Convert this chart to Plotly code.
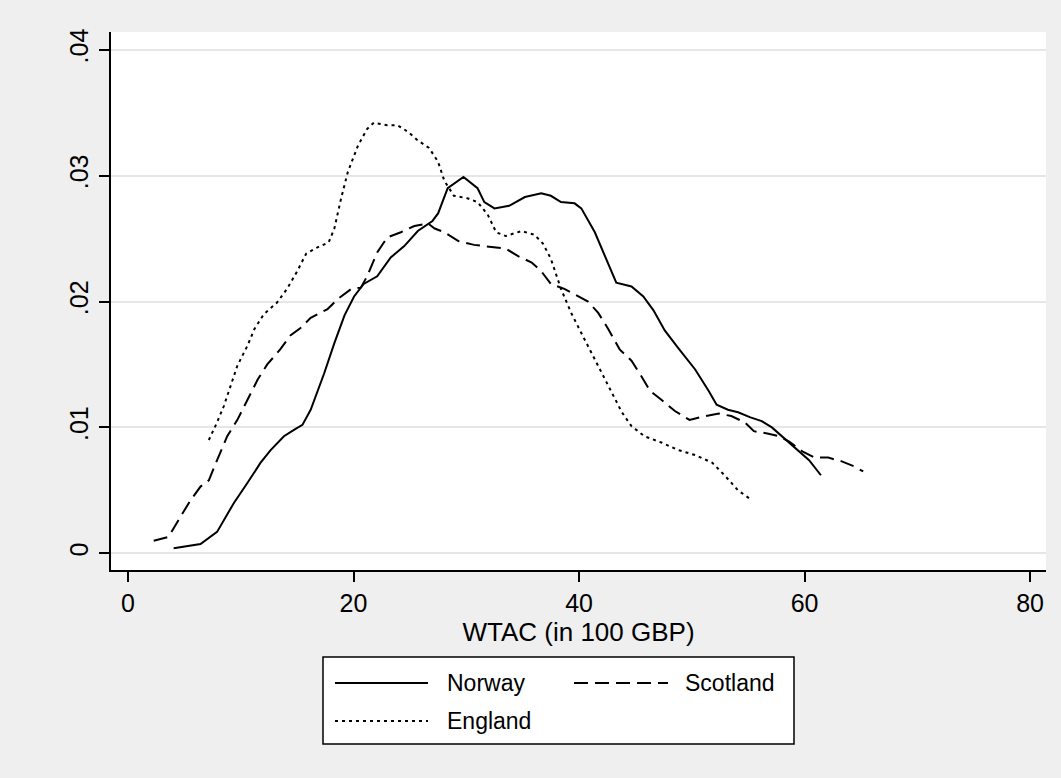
import plotly.graph_objects as go

# ---------------- data ----------------
norway_x = [4.05, 6.43, 7.9, 9.39, 10.6, 11.76, 12.65, 13.83, 14.72, 15.47, 16.2, 17.4, 18.3,
            19.2, 20.05, 20.9, 22.1, 23.3, 24.5, 25.7, 27.0, 27.5, 28.35, 29.75, 31.0, 31.6,
            32.5, 33.8, 35.2, 36.65, 37.5, 38.4, 39.6, 40.2, 41.4, 42.3, 43.3, 44.65, 45.7,
            46.6, 47.6, 48.8, 50.3, 51.5, 52.2, 53.2, 54.1, 55.2, 56.2, 57.1, 58.0, 59.2,
            60.4, 61.45]
norway_y = [0.0004, 0.00074, 0.0017, 0.0040, 0.0056, 0.0072, 0.0082, 0.0093, 0.0098, 0.0102,
            0.0114, 0.0143, 0.0167, 0.0189, 0.0204, 0.0214, 0.0220, 0.0235, 0.0244, 0.0256,
            0.0264, 0.0270, 0.0290, 0.0299, 0.0290, 0.0279, 0.0274, 0.0276, 0.0283, 0.0286,
            0.0284, 0.0279, 0.0278, 0.0274, 0.0255, 0.0236, 0.0215, 0.0212, 0.0204, 0.0193,
            0.0177, 0.0163, 0.0146, 0.0129, 0.0118, 0.0114, 0.0112, 0.0108, 0.0105, 0.0100,
            0.0093, 0.0084, 0.0074, 0.0062]

scotland_x = [2.28, 3.6, 4.65, 5.54, 6.43, 7.17, 7.9, 8.8, 9.7, 10.6, 11.5, 12.35, 13.5, 14.4,
              15.3, 16.2, 17.7, 18.6, 19.8, 20.65, 21.2, 22.1, 23.0, 24.2, 25.4, 26.6, 27.2,
              28.05, 29.3, 30.7, 32.8, 33.5, 34.6, 35.8, 36.65, 37.5, 38.7, 39.9, 40.8, 41.7,
              42.6, 43.6, 44.65, 45.5, 46.3, 47.3, 48.5, 49.8, 50.7, 52.4, 53.5, 54.7, 55.5,
              56.8, 57.7, 58.6, 59.8, 60.9, 62.1, 63.3, 64.4, 65.2]
scotland_y = [0.0010, 0.0013, 0.0029, 0.0042, 0.0053, 0.0058, 0.0074, 0.0093, 0.0106, 0.0122,
              0.0138, 0.0150, 0.0162, 0.0173, 0.0179, 0.0187, 0.0194, 0.0202, 0.0210, 0.0211,
              0.0220, 0.0239, 0.0251, 0.0255, 0.0260, 0.0262, 0.0258, 0.0255, 0.0248, 0.0245,
              0.0243, 0.0242, 0.0236, 0.0231, 0.0224, 0.0214, 0.0210, 0.0204, 0.0200, 0.0191,
              0.0178, 0.0162, 0.0153, 0.0141, 0.0129, 0.0122, 0.0113, 0.0106, 0.0108, 0.0111,
              0.0109, 0.0104, 0.0097, 0.0095, 0.0093, 0.0089, 0.0081, 0.0076, 0.0076, 0.0073,
              0.0069, 0.0065]

england_x = [7.17, 7.9, 8.5, 9.1, 9.7, 10.6, 11.2, 12.05, 13.2, 14.1, 15.0, 15.8, 16.8, 17.8,
             18.3, 18.9, 19.5, 20.4, 21.2, 21.8, 23.0, 23.9, 24.8, 25.7, 26.7, 27.5, 28.05,
             28.9, 30.1, 31.0, 31.9, 32.65, 33.5, 34.9, 36.05, 36.8, 37.5, 38.4, 39.3, 40.2,
             41.1, 42.0, 42.9, 43.8, 44.65, 45.8, 47.3, 48.8, 50.3, 51.8, 52.9, 54.1, 55.2]
england_y = [0.0090, 0.0104, 0.0117, 0.0133, 0.0149, 0.0165, 0.0178, 0.0190, 0.0199, 0.0210,
             0.0224, 0.0238, 0.0243, 0.0247, 0.0258, 0.0282, 0.0303, 0.0324, 0.0337, 0.0342,
             0.0340, 0.0340, 0.0335, 0.0328, 0.0322, 0.0311, 0.0296, 0.0284, 0.0282, 0.0279,
             0.0269, 0.0255, 0.0252, 0.0256, 0.0253, 0.0246, 0.0234, 0.0210, 0.0191, 0.0175,
             0.0159, 0.0143, 0.0127, 0.0112, 0.0101, 0.0093, 0.0088, 0.0082, 0.0078, 0.0072,
             0.0062, 0.0050, 0.0043]

series_names = ["Norway", "Scotland", "England"]
x_tickvals = [0, 20, 40, 60, 80]
y_tickvals = [0, 0.01, 0.02, 0.03, 0.04]
y_ticktext = ["0", ".01", ".02", ".03", ".04"]
x_title = "WTAC (in 100 GBP)"

# ---------------- layout constants ----------------
W, H = 1061, 778
ML, MR, MT, MB = 111, 15, 32, 208
PW, PH = W - ML - MR, H - MT - MB
FONT = "Liberation Sans, Arial, Helvetica, sans-serif"
BG = "#efefef"

dashes = {"Norway": "solid", "Scotland": "14px,7px", "England": "3px,4px"}
data = {"Norway": (norway_x, norway_y),
        "Scotland": (scotland_x, scotland_y),
        "England": (england_x, england_y)}

fig = go.Figure()
for name in series_names:
    xs, ys = data[name]
    fig.add_trace(go.Scatter(x=xs, y=ys, mode="lines", name=name, showlegend=False,
                             line=dict(color="black", width=2, dash=dashes[name])))

def px_x(p):
    return (p - ML) / PW

def px_y(p):
    return (H - MB - p) / PH

shapes = [dict(type="rect", xref="paper", yref="paper",
               x0=px_x(323), x1=px_x(794), y0=px_y(744), y1=px_y(657),
               line=dict(color="black", width=1.5), fillcolor="white", layer="above")]
annotations = []
legend_items = [("Norway", 335, 428, 683, 445),
                ("Scotland", 574, 668, 683, 683),
                ("England", 335, 428, 721, 445)]
for name, lx0, lx1, ly, tx in legend_items:
    shapes.append(dict(type="line", xref="paper", yref="paper",
                       x0=px_x(lx0), x1=px_x(lx1), y0=px_y(ly), y1=px_y(ly),
                       line=dict(color="black", width=2, dash=dashes[name]), layer="above"))
    annotations.append(dict(xref="paper", yref="paper", x=px_x(tx), y=px_y(ly),
                            text=name, showarrow=False, xanchor="left", yanchor="middle",
                            font=dict(size=23, color="black", family=FONT)))

fig.update_layout(
    width=W, height=H,
    margin=dict(l=ML, r=MR, t=MT, b=MB, pad=0),
    paper_bgcolor=BG, plot_bgcolor="white",
    font=dict(family=FONT, color="black", size=24),
    shapes=shapes, annotations=annotations,
    showlegend=False,
)
fig.update_xaxes(
    range=[-1.507, 81.41], tickvals=x_tickvals, showgrid=False, zeroline=False,
    showline=True, linecolor="black", linewidth=2,
    ticks="outside", ticklen=10, tickwidth=2, tickcolor="black",
    tickfont=dict(size=25, family=FONT, color="black"),
    title=dict(text=x_title, font=dict(size=26, family=FONT, color="black"), standoff=2),
)
fig.update_yaxes(
    range=[-0.001327, 0.04141], tickvals=y_tickvals, ticktext=y_ticktext, tickangle=-90,
    showgrid=True, gridcolor="#e6e6e6", gridwidth=1.5, zeroline=False,
    showline=True, linecolor="black", linewidth=2,
    ticks="outside", ticklen=10, tickwidth=2, tickcolor="black",
    tickfont=dict(size=25, family=FONT, color="black"),
    ticklabelstandoff=1,
)

fig.write_html("out.html", config={"displayModeBar": False},
               post_script="document.body.style.margin='0';document.body.style.padding='0';")
